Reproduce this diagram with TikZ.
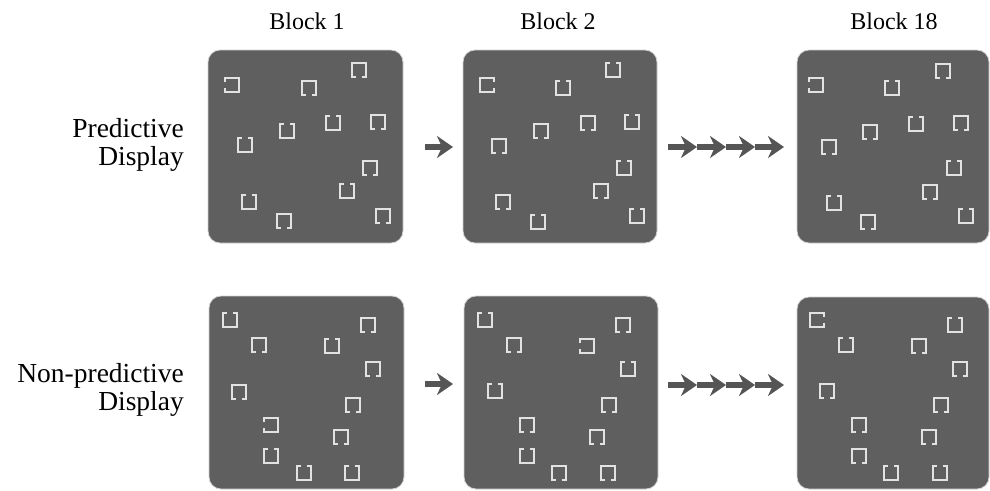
\documentclass[tikz,border=0pt]{standalone}
\usepackage{fontspec}
\setmainfont{Liberation Serif}
\usetikzlibrary{arrows.meta}
\definecolor{panelgray}{HTML}{5F5F5F}
\definecolor{itemgray}{HTML}{E2E2E2}
\definecolor{arrowgray}{HTML}{555555}
\tikzset{
  panel/.style={fill=panelgray, draw=gray!35, line width=0.8pt, rounded corners=12pt},
  item/.style={draw=itemgray, line width=1.9pt},
  rowlabel/.style={anchor=base east, inner sep=0pt, font=\fontsize{27.5}{28}\selectfont},
  blocktitle/.style={anchor=base, inner sep=0pt, font=\fontsize{24}{26}\selectfont},
  flow/.style={draw=arrowgray, line width=5.5pt, -{Stealth[length=16pt,width=22pt,inset=5pt]}},
  % squares with a gap in one side (s = half side, g = half gap)
  gapB/.pic={\path[item] (-2.8,6.6) -- (-6.6,6.6) -- (-6.6,-6.6) -- (6.6,-6.6) -- (6.6,6.6) -- (2.8,6.6);},
  gapT/.pic={\path[item] (-2.8,-6.6) -- (-6.6,-6.6) -- (-6.6,6.6) -- (6.6,6.6) -- (6.6,-6.6) -- (2.8,-6.6);},
  gapL/.pic={\path[item] (-6.6,-2.8) -- (-6.6,-6.6) -- (6.6,-6.6) -- (6.6,6.6) -- (-6.6,6.6) -- (-6.6,2.8);},
  gapR/.pic={\path[item] (6.6,-2.8) -- (6.6,-6.6) -- (-6.6,-6.6) -- (-6.6,6.6) -- (6.6,6.6) -- (6.6,2.8);},
}
\begin{document}
\begin{tikzpicture}[x=1pt, y=-1pt]
\useasboundingbox (0,0) rectangle (990,490);

% column titles
\node[blocktitle] (t1) at (307,29) {Block 1};
\node[blocktitle] (t2) at (558,29) {Block 2};
\node[blocktitle] (t3) at (894,29) {Block 18};

% row labels
\node[rowlabel] (pa) at (184,137) {Predictive};
\node[rowlabel] (pb) at (184,165) {Display};
\node[rowlabel] (na) at (184,382) {Non-predictive};
\node[rowlabel] (nb) at (184,410) {Display};

% search displays
\path[panel] (208,50) rectangle (403,243);
\path[panel] (463,50) rectangle (657,243);
\path[panel] (797,50) rectangle (989,243);
\path[panel] (209,296) rectangle (404,489);
\path[panel] (464,296) rectangle (658,489);
\path[panel] (797,297) rectangle (989,489);

% predictive, block 1
\foreach \t/\x/\y in {gapL/232/85, gapB/309/88, gapB/359/70, gapT/287/131, gapT/333/123, gapB/378/122,
  gapT/245/145, gapB/370/168, gapT/347/191, gapT/249/202, gapB/284/221, gapB/383/216}
  \pic at (\x,\y) {\t};
% predictive, block 2
\foreach \t/\x/\y in {gapR/487/85, gapT/563/88, gapT/613/70, gapB/541/131, gapB/588/123, gapT/632/122,
  gapB/499/146, gapT/624/168, gapB/601/191, gapB/503/202, gapT/538/222, gapT/637/216}
  \pic at (\x,\y) {\t};
% predictive, block 18
\foreach \t/\x/\y in {gapL/816/85, gapT/892/88, gapB/943/71, gapB/870/132, gapT/916/124, gapB/961/123,
  gapB/829/147, gapT/954/168, gapB/930/192, gapT/834/203, gapB/868/222, gapT/966/216}
  \pic at (\x,\y) {\t};

% non-predictive, block 1
\foreach \t/\x/\y in {gapT/230/320, gapB/259/345, gapB/368/325, gapT/332/346, gapB/373/369, gapB/239/392,
  gapB/353/405, gapL/271/425, gapB/341/437, gapT/271/456, gapT/304/473, gapT/352/473}
  \pic at (\x,\y) {\t};
% non-predictive, block 2
\foreach \t/\x/\y in {gapT/485/320, gapB/514/345, gapB/623/325, gapL/587/346, gapT/628/369, gapT/495/391,
  gapB/609/405, gapB/527/425, gapB/597/437, gapT/527/456, gapB/559/473, gapB/608/473}
  \pic at (\x,\y) {\t};
% non-predictive, block 18
\foreach \t/\x/\y in {gapR/817/320, gapT/846/345, gapT/955/325, gapB/919/346, gapB/960/369, gapB/827/391,
  gapB/941/405, gapB/859/425, gapB/929/437, gapB/859/456, gapT/891/473, gapT/940/473}
  \pic at (\x,\y) {\t};

% arrows between blocks
\coordinate (a0) at (425,147);
\coordinate (a1) at (453,147);
\draw[flow] (a0) -- (a1);
\coordinate (q0) at (668,147);
\coordinate (q1) at (697,147);
\coordinate (q2) at (726,147);
\coordinate (q3) at (755,147);
\coordinate (q4) at (784,147);
\draw[flow] (q0) -- (q1);
\draw[flow] (q1) -- (q2);
\draw[flow] (q2) -- (q3);
\draw[flow] (q3) -- (q4);

\coordinate (b0) at (425,384);
\coordinate (b1) at (453,384);
\draw[flow] (b0) -- (b1);
\coordinate (r0) at (668,385);
\coordinate (r1) at (697,385);
\coordinate (r2) at (726,385);
\coordinate (r3) at (755,385);
\coordinate (r4) at (784,385);
\draw[flow] (r0) -- (r1);
\draw[flow] (r1) -- (r2);
\draw[flow] (r2) -- (r3);
\draw[flow] (r3) -- (r4);
\end{tikzpicture}
\end{document}
